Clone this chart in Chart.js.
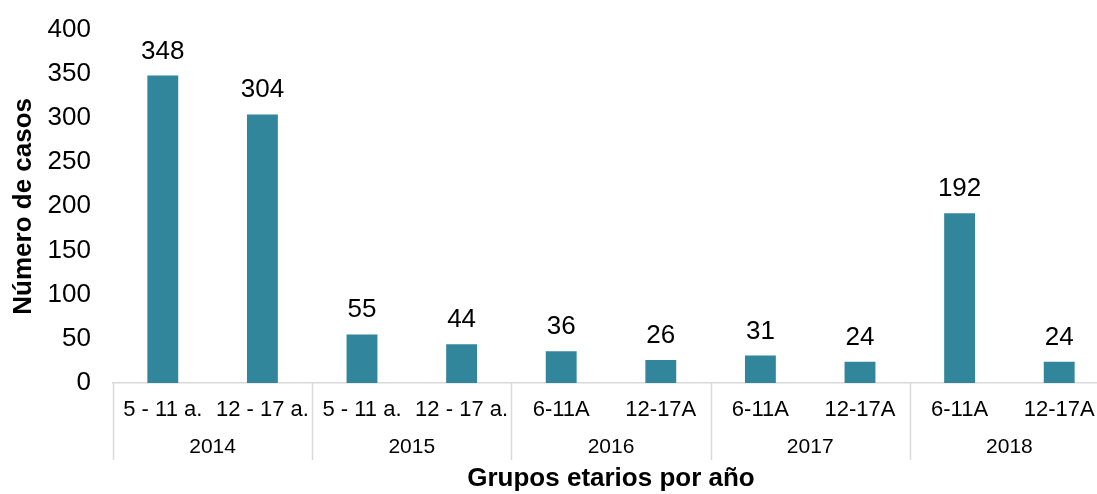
<!DOCTYPE html>
<html>
<head>
<meta charset="utf-8">
<script src="https://cdn.jsdelivr.net/npm/chart.js@4/dist/chart.umd.min.js"></script>
<style>
  html, body { margin: 0; padding: 0; background: #fff; overflow: hidden; }
  #wrap { width: 1112px; height: 494px; position: relative; }
</style>
</head>
<body>
<div id="wrap"><canvas id="c"></canvas></div>
<script>
const groups = ['5 - 11 a.', '12 - 17 a.', '5 - 11 a.', '12 - 17 a.', '6-11A', '12-17A', '6-11A', '12-17A', '6-11A', '12-17A'];
const years = ['2014', '2015', '2016', '2017', '2018'];
const casos = [348, 304, 55, 44, 36, 26, 31, 24, 192, 24];
const yTicks = [0, 50, 100, 150, 200, 250, 300, 350, 400];

const FONT = "'Liberation Sans', Arial, sans-serif";
const BAR = '#31869b';

// second row of labels (years) plus the separators between year groups
const yearRow = {
  id: 'yearRow',
  afterDraw(chart) {
    const ctx = chart.ctx;
    const x = chart.scales.x;
    const bottom = chart.chartArea.bottom;
    const step = x.getPixelForValue(1) - x.getPixelForValue(0);
    ctx.save();
    ctx.strokeStyle = '#d9d9d9';
    ctx.lineWidth = 1.5;
    for (let i = 0; i <= years.length; i++) {
      const px = Math.round(x.getPixelForValue(i * 2) - step / 2) + 0.5;
      ctx.beginPath();
      ctx.moveTo(px, bottom);
      ctx.lineTo(px, bottom + 77);
      ctx.stroke();
    }
    ctx.fillStyle = '#000';
    ctx.font = '21px ' + FONT;
    ctx.textAlign = 'center';
    ctx.textBaseline = 'middle';
    years.forEach((y, i) => {
      const px = (x.getPixelForValue(i * 2) + x.getPixelForValue(i * 2 + 1)) / 2;
      ctx.fillText(y, px, bottom + 64);
    });
    ctx.restore();
  }
};

// value labels above the bars
const valueLabels = {
  id: 'valueLabels',
  afterDatasetsDraw(chart) {
    const ctx = chart.ctx;
    const meta = chart.getDatasetMeta(0);
    ctx.save();
    ctx.fillStyle = '#000';
    ctx.font = '26px ' + FONT;
    ctx.textAlign = 'center';
    ctx.textBaseline = 'alphabetic';
    meta.data.forEach((bar, i) => {
      ctx.fillText(casos[i], bar.x, bar.y - 17);
    });
    ctx.restore();
  }
};

new Chart(document.getElementById('c'), {
  type: 'bar',
  data: {
    labels: groups,
    datasets: [{
      data: casos,
      backgroundColor: BAR,
      borderWidth: 0,
      barPercentage: 0.62,
      categoryPercentage: 0.5
    }]
  },
  options: {
    responsive: true,
    maintainAspectRatio: false,
    animation: false,
    layout: { padding: { left: 8, right: 3, top: 20, bottom: 0 } },
    plugins: {
      legend: { display: false },
      tooltip: { enabled: false }
    },
    scales: {
      x: {
        afterFit(scale) { scale.height = 111; },
        grid: { display: false },
        border: { color: '#d9d9d9', width: 1.5 },
        ticks: { color: '#000', font: { family: FONT, size: 22 }, padding: 6, maxRotation: 0, autoSkip: false },
        title: {
          display: true,
          text: 'Grupos etarios por año',
          color: '#000',
          font: { family: FONT, size: 26, weight: 'bold' },
          padding: { top: 22, bottom: 0 }
        }
      },
      y: {
        min: 0,
        max: 400,
        afterFit(scale) { scale.width = 105; },
        afterBuildTicks(scale) { scale.ticks = yTicks.map(v => ({ value: v })); },
        grid: { display: false },
        border: { display: false },
        ticks: { color: '#000', font: { family: FONT, size: 26 }, padding: 14 },
        title: {
          display: true,
          text: 'Número de casos',
          color: '#000',
          font: { family: FONT, size: 26, weight: 'bold' },
          padding: { top: 0, bottom: 0 }
        }
      }
    }
  },
  plugins: [yearRow, valueLabels]
});
</script>
</body>
</html>
